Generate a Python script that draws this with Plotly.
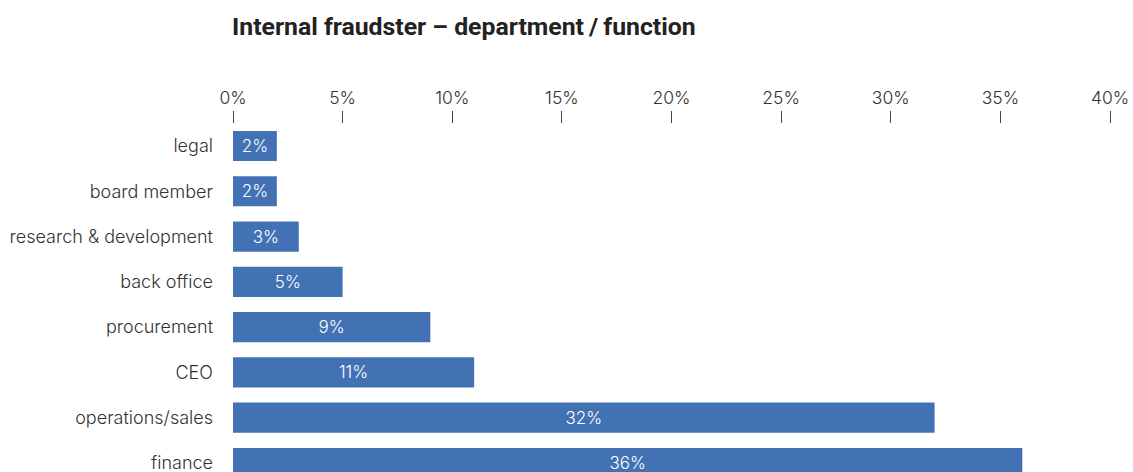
import plotly.graph_objects as go

# Share of internal fraudsters by department / function (percent)
categories = ["legal", "board member", "research & development", "back office",
              "procurement", "CEO", "operations/sales", "finance"]
values = [2, 2, 3, 5, 9, 11, 32, 36]
tick_vals = [0, 5, 10, 15, 20, 25, 30, 35, 40]
tick_text = [f"{v}%" for v in tick_vals]

BAR_COLOR = "#4272B4"
TITLE_FONT = "Roboto"
TEXT_FONT = "Inter"
TEXT_WEIGHT = 300
LABEL_COLOR = "#333333"

fig = go.Figure(
    go.Bar(
        x=values,
        y=categories,
        orientation="h",
        marker=dict(color=BAR_COLOR, line=dict(width=0)),
        text=[f"{v}%" for v in values],
        textposition="inside",
        insidetextanchor="middle",
        textangle=0,
        textfont=dict(family=TEXT_FONT, size=17, color="white", weight=TEXT_WEIGHT),
        hoverinfo="skip",
    )
)

fig.update_layout(
    width=1133,
    height=472,
    margin=dict(l=233, r=23, t=124, b=0),
    paper_bgcolor="white",
    plot_bgcolor="white",
    bargap=0.335,
    showlegend=False,
    title=dict(
        text="<b>Internal fraudster – department\u2009/\u2009function</b>",
        x=232 / 1133,
        xanchor="left",
        y=1 - 26 / 472,
        yanchor="middle",
        font=dict(family=TITLE_FONT, size=24.8, color="#222222"),
    ),
    xaxis=dict(
        side="top",
        range=[0, 40],
        tickvals=tick_vals,
        ticktext=tick_text,
        ticks="outside",
        ticklen=12,
        tickwidth=1,
        tickcolor="#444444",
        showgrid=False,
        zeroline=False,
        showline=False,
        tickfont=dict(family=TEXT_FONT, size=17.5, color=LABEL_COLOR, weight=TEXT_WEIGHT),
        fixedrange=True,
    ),
    yaxis=dict(
        type="category",
        categoryorder="array",
        categoryarray=categories,
        range=[7.2, -0.487],
        showgrid=False,
        zeroline=False,
        showline=False,
        ticks="",
        ticklabelstandoff=19,
        tickfont=dict(family=TEXT_FONT, size=18, color=LABEL_COLOR, weight=TEXT_WEIGHT),
        fixedrange=True,
    ),
)

fig.write_html("out.html")
